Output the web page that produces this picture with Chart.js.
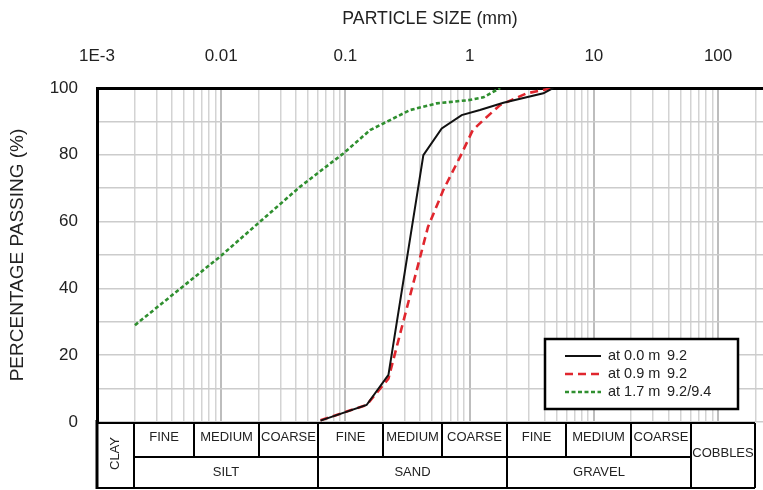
<!DOCTYPE html>
<html>
<head>
<meta charset="utf-8">
<script src="https://cdn.jsdelivr.net/npm/chart.js@4.4.1/dist/chart.umd.min.js"></script>
<style>
html, body { margin: 0; padding: 0; background: #fff; }
</style>
</head>
<body>
<canvas id="psd" width="763" height="490"></canvas>
<script>
// 粒徑 (mm) / 通過百分比 (%)
let size00 = [0.063, 0.148, 0.222, 0.424, 0.596, 0.863, 1.21, 1.87, 3.92, 4.7]
let pass00 = [0.4, 5.1, 14.1, 79.9, 87.9, 91.9, 93.4, 95.6, 98.4, 100]

let size09 = [0.063, 0.148, 0.222, 0.462, 0.615, 0.838, 1.06, 1.29, 1.76, 2.88, 4.7]
let pass09 = [0.5, 5.1, 13, 58.4, 69.5, 79.4, 87.4, 90.4, 94.9, 98.4, 100]

let size17 = [0.00202, 0.00977, 0.043, 0.0962, 0.158, 0.229, 0.331, 0.543, 1.0, 1.29, 1.76]
let pass17 = [29, 49.5, 70.4, 80.4, 87.4, 90.4, 93.4, 95.4, 96.4, 97.2, 100]

let seriesNames = ['at 0.0 m', 'at 0.9 m', 'at 1.7 m']
let seriesTags = ['9.2', '9.2', '9.2/9.4']

// 軸刻度
let sizeDecades = [0.001, 0.01, 0.1, 1, 10, 100]
let sizeTickLabels = ['1E-3', '0.01', '0.1', '1', '10', '100']

// 土壤分類表
let classBounds = [0.001, 0.002, 0.006, 0.02, 0.06, 0.2, 0.6, 2, 6, 20, 60, 200]
let subClassNames = ['FINE', 'MEDIUM', 'COARSE', 'FINE', 'MEDIUM', 'COARSE', 'FINE', 'MEDIUM', 'COARSE']
let groupNames = ['SILT', 'SAND', 'GRAVEL']
let groupBounds = [[0.002, 0.06], [0.06, 2], [2, 60]]

const FONT = "'Liberation Sans', Arial, sans-serif"

function toPoints(xs, ys) {
    return xs.map(function (x, i) { return { x: x, y: ys[i] } })
}

// 分類表 + 圖例
const soilTable = {
    id: 'soilTable',
    afterDraw(chart) {
        const ctx = chart.ctx
        const area = chart.chartArea
        const xs = chart.scales.x
        const px = v => Math.round(xs.getPixelForValue(v))
        const top = area.bottom + 1
        const mid = top + 34
        const bot = chart.height - 2
        const left = area.left
        const right = px(200)

        ctx.save()
        ctx.strokeStyle = '#000'
        ctx.lineWidth = 2
        ctx.beginPath()
        ctx.moveTo(left, top); ctx.lineTo(right, top)
        ctx.moveTo(px(0.002), mid); ctx.lineTo(px(60), mid)
        ctx.moveTo(left, bot); ctx.lineTo(right, bot)
        ;[0.002, 0.06, 2, 60, 200].forEach(v => {
            ctx.moveTo(px(v), top); ctx.lineTo(px(v), bot)
        })
        ;[0.006, 0.02, 0.2, 0.6, 6, 20].forEach(v => {
            ctx.moveTo(px(v), top); ctx.lineTo(px(v), mid)
        })
        ctx.stroke()
        ctx.lineWidth = 3
        ctx.beginPath()
        ctx.moveTo(left, area.bottom - 2); ctx.lineTo(left, bot + 1)
        ctx.stroke()

        ctx.fillStyle = '#222'
        ctx.font = '13px ' + FONT
        ctx.textAlign = 'center'
        ctx.textBaseline = 'middle'
        for (let i = 0; i < subClassNames.length; i++) {
            let a = px(classBounds[i + 1]), b = px(classBounds[i + 2])
            ctx.fillText(subClassNames[i], (a + b) / 2, top + 14)
        }
        groupBounds.forEach((g, i) => {
            ctx.fillText(groupNames[i], (px(g[0]) + px(g[1])) / 2, mid + 15)
        })
        ctx.fillText('COBBLES', (px(60) + px(200)) / 2, (top + bot) / 2 - 2)
        ctx.save()
        ctx.translate((left + px(0.002)) / 2, (top + bot) / 2 - 2)
        ctx.rotate(-Math.PI / 2)
        ctx.fillText('CLAY', 0, 0)
        ctx.restore()

        // 圖例
        const lw = 193, lh = 70
        const lx = area.right - 25 - lw
        const ly = area.bottom - 13 - lh
        ctx.fillStyle = '#fff'
        ctx.fillRect(lx, ly, lw, lh)
        ctx.strokeStyle = '#000'
        ctx.lineWidth = 2.5
        ctx.strokeRect(lx, ly, lw, lh)
        ctx.font = '14.5px ' + FONT
        ctx.textAlign = 'left'
        chart.data.datasets.forEach((ds, i) => {
            let y = ly + 17 + i * 18
            ctx.save()
            ctx.strokeStyle = ds.borderColor
            ctx.lineWidth = ds.borderWidth
            ctx.setLineDash(ds.borderDash || [])
            ctx.beginPath()
            ctx.moveTo(lx + 20, y); ctx.lineTo(lx + 56, y)
            ctx.stroke()
            ctx.restore()
            ctx.fillStyle = '#222'
            ctx.fillText(seriesNames[i], lx + 63, y)
            ctx.fillText(seriesTags[i], lx + 122, y)
        })
        ctx.restore()
    }
}

let ctx = document.getElementById('psd').getContext('2d')
let psdChart = new Chart(ctx, {
    type: 'line',
    data: {
        datasets: [
            {
                label: seriesNames[0],
                data: toPoints(size00, pass00),
                borderColor: '#111111',
                borderWidth: 2,
                pointRadius: 0,
                tension: 0
            },
            {
                label: seriesNames[1],
                data: toPoints(size09, pass09),
                borderColor: '#e0262e',
                borderWidth: 2.6,
                borderDash: [8, 5],
                pointRadius: 0,
                tension: 0
            },
            {
                label: seriesNames[2],
                data: toPoints(size17, pass17),
                borderColor: '#2f8f2f',
                borderWidth: 2.6,
                borderDash: [4, 2.5],
                pointRadius: 0,
                tension: 0
            }
        ]
    },
    options: {
        responsive: false,
        animation: false,
        layout: { padding: { top: 0, right: 0, bottom: 68, left: 0 } },
        plugins: {
            legend: { display: false },
            tooltip: { enabled: false }
        },
        scales: {
            x: {
                type: 'logarithmic',
                position: 'top',
                min: 0.001,
                max: 230,
                afterBuildTicks: function (scale) {
                    let t = []
                    sizeDecades.forEach(d => {
                        for (let m = 1; m <= 9; m++) {
                            let v = d * m
                            if (v <= 230) t.push({ value: v })
                        }
                    })
                    scale.ticks = t
                },
                afterFit: function (scale) {
                    scale.height = 88
                    scale.paddingLeft = 0
                    scale.paddingRight = 0
                },
                title: {
                    display: true,
                    text: 'PARTICLE SIZE (mm)',
                    color: '#222',
                    font: { family: FONT, size: 17.7 },
                    padding: { top: 8, bottom: 0 }
                },
                ticks: {
                    autoSkip: false,
                    maxRotation: 0,
                    padding: 21,
                    color: '#222',
                    font: { family: FONT, size: 17 },
                    callback: function (value) {
                        let i = sizeDecades.indexOf(value)
                        return i >= 0 ? sizeTickLabels[i] : ''
                    }
                },
                grid: {
                    drawTicks: false,
                    color: c => (c.tick && sizeDecades.includes(c.tick.value)) ? '#bdbdbd' : '#d3d3d3',
                    lineWidth: c => (c.tick && sizeDecades.includes(c.tick.value)) ? 2 : 1.5
                },
                border: { display: true, color: '#000', width: 3 }
            },
            y: {
                min: 0,
                max: 100,
                afterFit: function (scale) { scale.width = 97 },
                title: {
                    display: true,
                    text: 'PERCENTAGE PASSING (%)',
                    color: '#222',
                    font: { family: FONT, size: 19 },
                    padding: { top: 6, bottom: 0 }
                },
                ticks: {
                    stepSize: 10,
                    padding: 19,
                    color: '#222',
                    font: { family: FONT, size: 17 },
                    callback: function (value) { return value % 20 === 0 ? value : '' }
                },
                grid: {
                    drawTicks: false,
                    color: '#cccccc',
                    lineWidth: 1.5
                },
                border: { display: true, color: '#000', width: 3 }
            }
        }
    },
    plugins: [soilTable]
})
</script>
</body>
</html>
